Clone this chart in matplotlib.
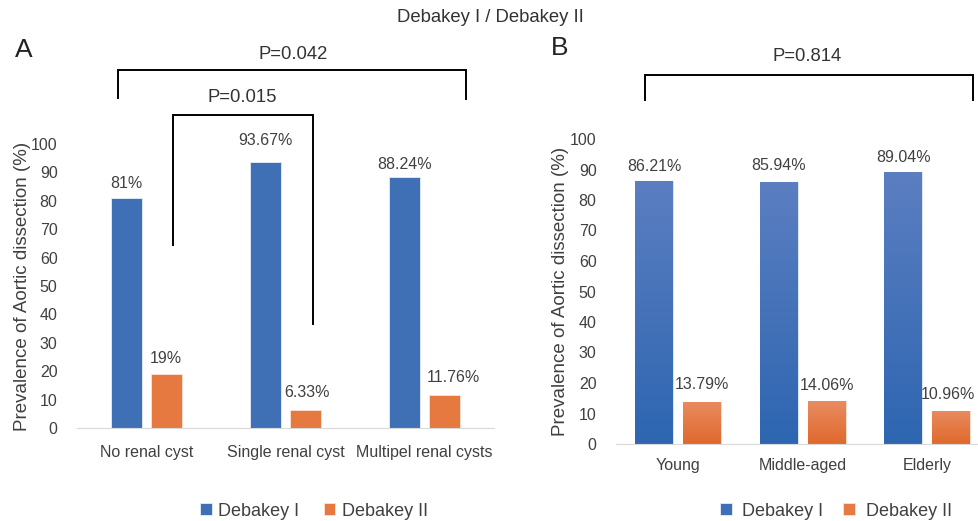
import numpy as np
import matplotlib
matplotlib.use('Agg')
import matplotlib.pyplot as plt

plt.rcParams['font.family'] = ['Liberation Sans', 'DejaVu Sans']

# panel A: renal cysts
cyst_groups = ['No renal cyst', 'Single renal cyst', 'Multipel renal cysts']
cyst_type1 = [81, 93.67, 88.24]
cyst_type2 = [19, 6.33, 11.76]
cyst_lab1 = ['81%', '93.67%', '88.24%']
cyst_lab2 = ['19%', '6.33%', '11.76%']

# panel B: age groups
age_groups = ['Young', 'Middle-aged', 'Elderly']
age_type1 = [86.21, 85.94, 89.04]
age_type2 = [13.79, 14.06, 10.96]
age_lab1 = ['86.21%', '85.94%', '89.04%']
age_lab2 = ['13.79%', '14.06%', '10.96%']

yticks = list(range(0, 101, 10))
series_names = ['Debakey I', 'Debakey II']

BLUE = '#3f70b5'
ORANGE = '#e5793f'
TXT = '#404040'
FS = 11.5

fig = plt.figure(figsize=(9.79, 5.21), dpi=100)


def style_axes(ax, groups, xmax):
    ax.set_xlim(-0.5, xmax)
    ax.set_ylim(0, 100)
    ax.set_yticks(yticks)
    ax.set_xticks(range(len(groups)))
    ax.set_xticklabels(groups)
    for s in ['top', 'right', 'left']:
        ax.spines[s].set_visible(False)
    ax.spines['bottom'].set_color('#d9d9d9')
    ax.tick_params(axis='both', length=0, labelsize=FS, labelcolor=TXT)
    ax.tick_params(axis='y', pad=14)
    ax.set_ylabel('Prevalence of Aortic dissection (%)', fontsize=13.5, color=TXT)


def label_bars(ax, bars, labels, offs, dx=None):
    # offs: pixel gap from bar top to label centre
    if dx is None:
        dx = [0] * len(bars)
    for b, t, o, d in zip(bars, labels, offs, dx):
        ax.annotate(t, (b.get_x() + b.get_width() / 2, b.get_height()),
                    xytext=(d * 0.72, o * 0.72), textcoords='offset points',
                    ha='center', va='center', fontsize=FS, color=TXT)


def bracket(ax, x0, x1, ytop, yl, yr, text, ty, tx):
    ax.plot([x0, x0, x1, x1], [yl, ytop, ytop, yr], color='black', lw=1.4,
            clip_on=False, solid_joinstyle='miter')
    ax.text(tx, ty, text, ha='center', va='center', fontsize=13.3, color='#333333')


def gradient_fill(ax, bars, top, bottom):
    cmap = matplotlib.colors.LinearSegmentedColormap.from_list('g', [bottom, top])
    grad = np.linspace(0, 1, 64).reshape(-1, 1)
    for b in bars:
        x, w, h = b.get_x(), b.get_width(), b.get_height()
        im = ax.imshow(grad, cmap=cmap, origin='lower', aspect='auto',
                       extent=[x, x + w, 0, h], zorder=b.get_zorder())
        im.set_clip_path(b)


# ---------- A ----------
axA = fig.add_axes([77 / 979, 1 - 428 / 521, 417 / 979, 284 / 521])
x = np.arange(len(cyst_groups))
wA, oA = 0.225, 0.142
b1 = axA.bar(x - oA, cyst_type1, wA, color=BLUE, edgecolor='#e8eef8', lw=0.6, label=series_names[0])
b2 = axA.bar(x + oA, cyst_type2, wA, color=ORANGE, edgecolor='#fbe3d5', lw=0.6, label=series_names[1])
style_axes(axA, cyst_groups, 2.5)
axA.tick_params(axis='x', pad=12)
axA.yaxis.set_label_coords(-0.11, 0.5)
label_bars(axA, b1, cyst_lab1, [14, 21, 13])
label_bars(axA, b2, cyst_lab2, [16, 18, 17], [0, 2, 9])
bracket(axA, -0.205, 2.30, 126.1, 116.2, 115.8, 'P=0.042', 131.5, 1.054)
bracket(axA, 0.19, 1.198, 110.2, 64.4, 36.6, 'P=0.015', 116.5, 0.687)
axA.legend(loc='center', bbox_to_anchor=(314 / 979, 1 - 511 / 521), bbox_transform=fig.transFigure,
           ncol=2, frameon=False, fontsize=13, handlelength=0.65, handleheight=0.65,
           handletextpad=0.35, columnspacing=1.35, labelcolor=TXT)

# ---------- B ----------
axB = fig.add_axes([616 / 979, 1 - 444 / 521, 363 / 979, 305 / 521])
x = np.arange(len(age_groups))
wB, oB = 0.305, 0.193
c1 = axB.bar(x - oB, age_type1, wB, color='#3f6fb8', edgecolor='#e8eef8', lw=0.6, label=series_names[0])
c2 = axB.bar(x + oB, age_type2, wB, color='#e57a45', edgecolor='#fbe3d5', lw=0.6, label=series_names[1])
gradient_fill(axB, c1, '#5b7ec1', '#2e66b1')
gradient_fill(axB, c2, '#e98b60', '#df692c')
style_axes(axB, age_groups, -0.5 + 363 / 124.5)
axB.tick_params(axis='x', pad=10)
axB.yaxis.set_label_coords(-0.13, 0.5)
label_bars(axB, c1, age_lab1, [15, 16, 15])
label_bars(axB, c2, age_lab2, [17, 16, 16], [0, 0, -3])
bracket(axB, -0.267, 2.367, 121.0, 112.8, 112.8, 'P=0.814', 126.9, 1.034)
axB.legend(loc='center', bbox_to_anchor=(836 / 979, 1 - 511 / 521), bbox_transform=fig.transFigure,
           ncol=2, frameon=False, fontsize=13, handlelength=0.65, handleheight=0.65,
           handletextpad=0.6, columnspacing=1.1, labelcolor=TXT)

fig.text(490 / 979, 1 - 18 / 521, 'Debakey I / Debakey II', ha='center', va='center',
         fontsize=13.3, color='#333333')
fig.text(24 / 979, 1 - 50 / 521, 'A', ha='center', va='center', fontsize=19, color='#222222')
fig.text(560 / 979, 1 - 48 / 521, 'B', ha='center', va='center', fontsize=19, color='#222222')

fig.savefig('out.png', dpi=100)
